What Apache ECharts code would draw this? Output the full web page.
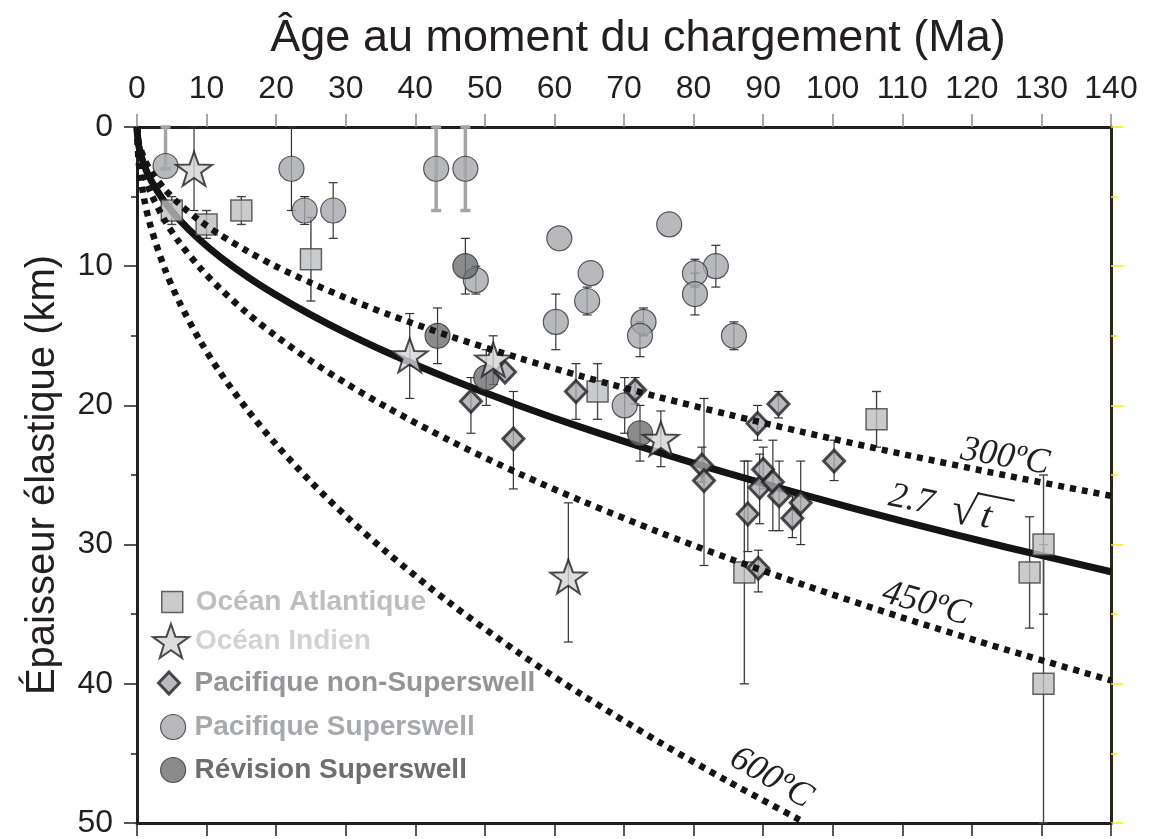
<!DOCTYPE html>
<html>
<head>
<meta charset="utf-8">
<title>Épaisseur élastique vs âge</title>
<script src="https://cdn.jsdelivr.net/npm/echarts/dist/echarts.min.js"></script>
<style>
  html, body { margin: 0; padding: 0; background: #fff; }
  #main { width: 1150px; height: 839px; }
</style>
</head>
<body>
<div id="main"></div>
<script>
// ---- data: [âge (Ma), Te (km), barre basse, barre haute] ----
var atlantique = [
  [5.0, 6.0, 5.0, 7.0],
  [10.0, 7.0, 6.0, 8.0],
  [15.0, 6.0, 5.0, 7.0],
  [25.0, 9.5, 6.5, 12.5],
  [66.2, 19.0, 17.0, 21.0],
  [87.3, 32.0, 24.0, 40.0],
  [106.3, 21.0, 19.0, 23.0],
  [128.3, 32.0, 28.0, 36.0],
  [130.3, 30.0, 25.0, 35.0],
  [130.3, 40.0, 30.0, 50.0]
];
var indien = [
  [8.2, 3.0, 0.0, 6.0],
  [39.2, 16.4, 13.4, 19.5],
  [51.2, 16.7, 15.0, 18.5],
  [62.0, 32.3, 27.0, 37.0],
  [75.3, 22.4, 20.4, 24.4]
];
var pacifiqueNonSS = [
  [48.0, 19.7, 18.0, 22.0],
  [52.9, 17.6, null, null],
  [54.1, 22.4, 19.0, 26.0],
  [63.1, 19.0, 17.0, 21.0],
  [71.6, 18.9, 18.0, 19.9],
  [81.2, 24.3, 23.0, 25.5],
  [81.5, 25.4, 19.5, 31.5],
  [87.8, 27.8, 24.0, 30.5],
  [89.2, 21.3, 20.0, 22.5],
  [89.3, 31.7, 30.4, 33.4],
  [89.5, 25.9, 23.5, 28.5],
  [90.0, 24.6, 23.0, 26.0],
  [91.4, 25.5, 22.5, 29.0],
  [92.2, 19.9, 19.0, 20.9],
  [92.3, 26.5, 24.0, 29.0],
  [94.2, 28.1, 26.5, 29.5],
  [95.4, 27.0, 24.0, 30.0],
  [100.2, 24.0, 22.5, 25.4]
];
var pacifiqueSS = [
  [22.2, 3.0, 0.0, 6.0],
  [24.1, 6.0, 5.0, 7.0],
  [28.2, 6.0, 4.0, 8.0],
  [48.7, 11.0, 10.0, 12.0],
  [60.7, 8.0, null, null],
  [65.2, 10.5, null, null],
  [76.5, 7.0, null, null],
  [64.7, 12.5, 11.5, 13.5],
  [60.2, 14.0, 12.0, 16.0],
  [83.2, 10.0, 8.5, 11.5],
  [80.2, 10.5, 9.5, 11.5],
  [80.2, 12.0, 10.5, 13.5],
  [72.8, 14.0, 13.0, 15.0],
  [72.3, 15.0, 14.0, 16.5],
  [85.8, 15.0, 14.0, 16.0],
  [70.1, 20.0, 18.0, 22.0]
];
// points Superswell dont la barre est tracée en gris épais
var pacifiqueSSGris = [
  [4.1, 2.8, 0.0, 3.0],
  [43.0, 3.0, 0.0, 6.0],
  [47.2, 3.0, 0.0, 6.0]
];
var revision = [
  [47.2, 10.0, 8.0, 12.0],
  [43.2, 15.0, 13.0, 17.0],
  [50.2, 18.0, 16.0, 20.0],
  [72.3, 22.0, 20.0, 24.0]
];

// courbes
var agesCourbe = [0, 0.25, 1, 2, 4, 6, 9, 12, 16, 20, 25, 30, 36, 45, 55, 64, 75, 85, 96, 110, 125, 140];
var te27 = [0, 1.35, 2.7, 3.82, 5.4, 6.61, 8.1, 9.35, 10.8, 12.07, 13.5, 14.79, 16.2, 18.11, 20.02, 21.6, 23.38, 24.89, 26.45, 28.32, 30.19, 31.95];
var te300 = [0, 1.12, 2.24, 3.17, 4.48, 5.49, 6.72, 7.76, 8.96, 10.02, 11.2, 12.27, 13.44, 15.03, 16.61, 17.92, 19.4, 20.65, 21.95, 23.49, 25.04, 26.5];
var te450 = [0, 1.68, 3.36, 4.75, 6.72, 8.23, 10.08, 11.64, 13.44, 15.03, 16.8, 18.4, 20.16, 22.54, 24.92, 26.88, 29.1, 30.98, 32.92, 35.24, 37.56, 39.76];
var te600 = [0, 2.55, 5.1, 7.21, 10.2, 12.49, 15.3, 17.67, 20.4, 22.81, 25.5, 27.93, 30.6, 34.21, 37.82, 40.8, 44.17, 47.02, 49.97];

var xTicks = [0, 140, 10];
var yTicks = [0, 50, 10];

var SANS = '"Liberation Sans", Arial, Helvetica, sans-serif';
var SERIF = '"Liberation Serif", "Times New Roman", serif';
var INK = '#231f20';
var STAR = 'path://M50,2 L62,36 L98,37 L69,58 L80,93 L50,72 L20,93 L31,58 L2,37 L38,36 Z';

function pairs(xs, ys) {
  return ys.map(function (y, i) { return [xs[i], y]; });
}

function errBars(color, width, cap) {
  return function (params, api) {
    var lo = api.value(2), hi = api.value(3);
    if (isNaN(lo) || isNaN(hi)) return;
    var a = api.coord([api.value(0), lo]);
    var b = api.coord([api.value(0), hi]);
    var st = { stroke: color, lineWidth: width };
    var h = cap / 2;
    return {
      type: 'group',
      children: [
        { type: 'line', shape: { x1: a[0], y1: a[1], x2: b[0], y2: b[1] }, style: st },
        { type: 'line', shape: { x1: a[0] - h, y1: a[1], x2: a[0] + h, y2: a[1] }, style: st },
        { type: 'line', shape: { x1: b[0] - h, y1: b[1], x2: b[0] + h, y2: b[1] }, style: st }
      ]
    };
  };
}

function errSeries(data, color, width, cap) {
  return {
    type: 'custom', data: data, z: 1, silent: true,
    renderItem: errBars(color, width, cap)
  };
}

function curve(data, dotted) {
  return {
    type: 'line', data: data, smooth: 0.3, showSymbol: false, silent: true,
    z: dotted ? 4 : 2,
    lineStyle: dotted
      ? { color: '#141414', width: 6.5, type: [6, 6], cap: 'butt' }
      : { color: '#141414', width: 7 }
  };
}

function legendRow(name, icon, left, top, w, h, textColor, pad, itemStyle) {
  return {
    orient: 'vertical', left: left, top: top, itemWidth: w, itemHeight: h,
    selectedMode: false, padding: 0,
    data: [{ name: name, icon: icon }],
    itemStyle: itemStyle,
    textStyle: { fontFamily: SANS, fontWeight: 'bold', fontSize: 28, color: textColor, padding: [0, 0, 0, pad] }
  };
}

var stAtl = { color: '#bcbec0', borderColor: '#404040', borderWidth: 1.5 };
var stInd = { color: '#d1d3d4', borderColor: INK, borderWidth: 2 };
var stPac = { color: '#a7a9ac', borderColor: INK, borderWidth: 3 };
var stSS = { color: '#a5a8ab', borderColor: '#333', borderWidth: 1.2 };
var stRev = { color: '#6d6e71', borderColor: '#333', borderWidth: 1.2 };

var chart = echarts.init(document.getElementById('main'));

var option = {
  animation: false,
  backgroundColor: '#fff',
  grid: { left: 137, right: 39, top: 127, bottom: 13, containLabel: false },
  legend: [
    legendRow('Océan Atlantique', 'rect', 161, 588, 21, 21, '#bcbec0', 8, stAtl),
    legendRow('Océan Indien', STAR, 152, 623, 38, 34, '#d1d3d4', 0, stInd),
    legendRow('Pacifique non-Superswell', 'diamond', 157, 669, 21, 22, '#939598', 10, stPac),
    legendRow('Pacifique Superswell', 'circle', 160, 713, 25, 25, '#a7a9ac', 4, stSS),
    legendRow('Révision Superswell', 'circle', 160, 756, 25, 25, '#6d6e71', 4, stRev)
  ],
  xAxis: [
    {
      type: 'value', position: 'top', min: xTicks[0], max: xTicks[1], interval: xTicks[2],
      name: 'Âge au moment du chargement (Ma)', nameLocation: 'middle', nameGap: 66,
      nameTextStyle: { fontFamily: SANS, fontSize: 45, color: INK, padding: [0, 0, 0, 28] },
      axisLine: { onZero: false, lineStyle: { color: INK, width: 3 } },
      axisTick: { length: 13, lineStyle: { color: '#8a8a8a', width: 1.5 } },
      axisLabel: { fontFamily: SANS, fontSize: 32, color: INK, margin: 22 },
      splitLine: { show: false }
    },
    {
      type: 'value', position: 'bottom', min: xTicks[0], max: xTicks[1], interval: xTicks[2],
      axisLine: { onZero: false, lineStyle: { color: INK, width: 3 } },
      axisTick: { length: 13, lineStyle: { color: INK, width: 1.5 } },
      axisLabel: { show: false },
      splitLine: { show: false }
    }
  ],
  yAxis: [
    {
      type: 'value', position: 'left', inverse: true, min: yTicks[0], max: yTicks[1], interval: yTicks[2],
      name: 'Épaisseur élastique (km)', nameLocation: 'middle', nameGap: 74, nameRotate: 90,
      nameTextStyle: { fontFamily: SANS, fontSize: 40, color: INK },
      axisLine: { onZero: false, lineStyle: { color: INK, width: 3 } },
      axisTick: { length: 13, lineStyle: { color: INK, width: 1.5 } },
      minorTick: { show: true, splitNumber: 2, length: 6, lineStyle: { color: INK, width: 1.5 } },
      axisLabel: { fontFamily: SANS, fontSize: 32, color: INK, margin: 24 },
      splitLine: { show: false }
    },
    {
      type: 'value', position: 'right', inverse: true, min: yTicks[0], max: yTicks[1], interval: yTicks[2],
      axisLine: { onZero: false, lineStyle: { color: '#2b2818', width: 3 } },
      axisTick: { length: 12, lineStyle: { color: '#ffe61a', width: 1.5 } },
      minorTick: { show: true, splitNumber: 2, length: 6, lineStyle: { color: '#ffe61a', width: 1.5 } },
      axisLabel: { show: false },
      splitLine: { show: false }
    }
  ],
  graphic: [
    { type: 'text', x: 1005, y: 457, rotation: -0.17, z: 10,
      style: { text: '300ºC', font: 'italic 36px ' + SERIF, fill: INK, align: 'center', verticalAlign: 'middle' } },
    { type: 'text', x: 926, y: 604, rotation: -0.27, z: 10,
      style: { text: '450ºC', font: 'italic 36px ' + SERIF, fill: INK, align: 'center', verticalAlign: 'middle' } },
    { type: 'text', x: 771, y: 778, rotation: -0.53, z: 10,
      style: { text: '600ºC', font: 'italic 36px ' + SERIF, fill: INK, align: 'center', verticalAlign: 'middle' } },
    { type: 'group', x: 950, y: 508, rotation: -0.2, z: 10,
      children: [
        { type: 'text', x: -62, y: 0, style: { text: '2.7', font: 'italic 36px ' + SERIF, fill: INK, align: 'left', verticalAlign: 'middle' } },
        { type: 'text', x: 2, y: 2, style: { text: '√', font: '44px ' + SERIF, fill: INK, align: 'left', verticalAlign: 'middle' } },
        { type: 'line', shape: { x1: 24, y1: -20, x2: 62, y2: -20 }, style: { stroke: INK, lineWidth: 2 } },
        { type: 'text', x: 32, y: 2, style: { text: 't', font: 'italic 38px ' + SERIF, fill: INK, align: 'left', verticalAlign: 'middle' } }
      ] }
  ],
  series: [
    curve(pairs(agesCourbe, te27), false),
    curve(pairs(agesCourbe, te300), true),
    curve(pairs(agesCourbe, te450), true),
    curve(pairs(agesCourbe, te600), true),

    errSeries(atlantique, '#444', 1.4, 9),
    errSeries(indien, '#333', 1.2, 9),
    errSeries(pacifiqueNonSS, '#333', 1.2, 9),
    errSeries(pacifiqueSS, '#333', 1.2, 9),
    errSeries(pacifiqueSSGris, '#a3a5a8', 3.5, 10),
    errSeries(revision, '#333', 1.2, 9),

    { name: 'Océan Atlantique', type: 'scatter', z: 3, data: atlantique, symbol: 'rect', symbolSize: 21, itemStyle: stAtl },
    { name: 'Pacifique Superswell', type: 'scatter', z: 3, data: pacifiqueSSGris.concat(pacifiqueSS), symbol: 'circle', symbolSize: 25, itemStyle: stSS },
    { name: 'Révision Superswell', type: 'scatter', z: 3, data: revision, symbol: 'circle', symbolSize: 25, itemStyle: stRev },
    { name: 'Pacifique non-Superswell', type: 'scatter', z: 3, data: pacifiqueNonSS, symbol: 'diamond', symbolSize: [21, 22], itemStyle: stPac },
    { name: 'Océan Indien', type: 'scatter', z: 3, data: indien, symbol: STAR, symbolSize: [36, 34], itemStyle: stInd }
  ]
};

chart.setOption(option);
</script>
</body>
</html>
